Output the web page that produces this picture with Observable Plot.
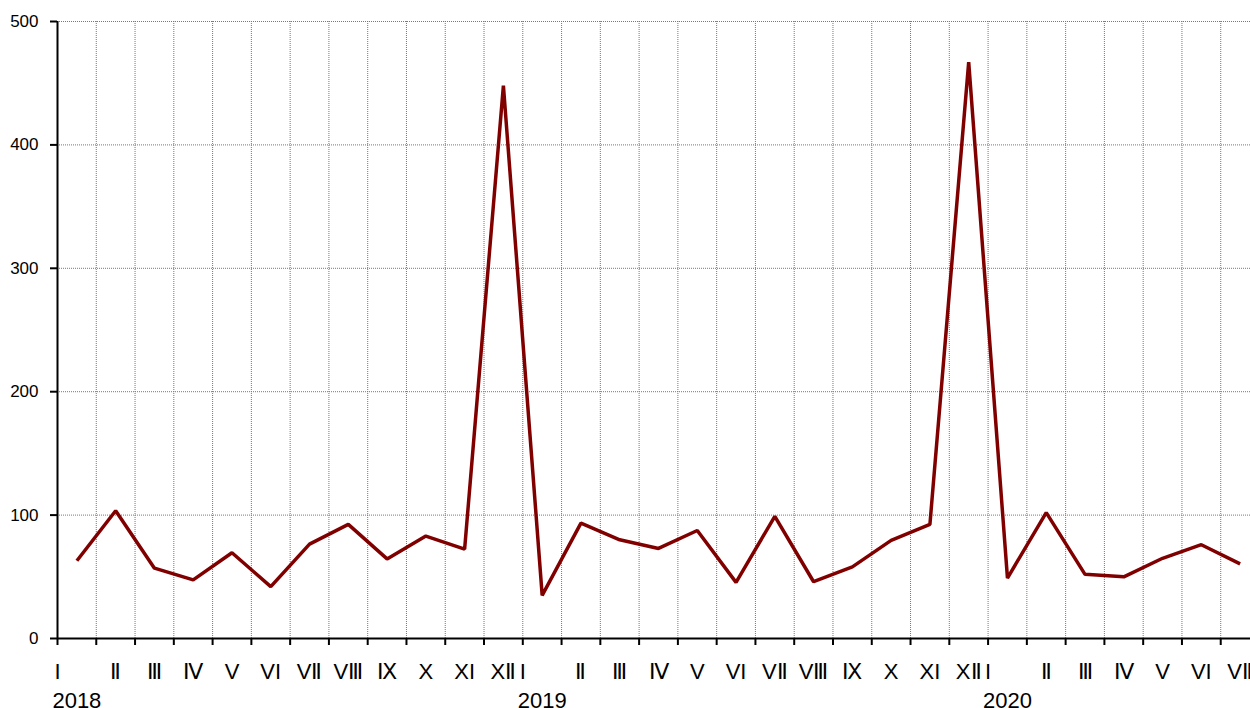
<!DOCTYPE html>
<html>
<head>
<meta charset="utf-8">
<script src="https://cdn.jsdelivr.net/npm/d3@7"></script>
<script src="https://cdn.jsdelivr.net/npm/@observablehq/plot@0.6"></script>
<style>
  html, body { margin: 0; padding: 0; background: #fff; overflow: hidden; }
  #chart svg { max-width: none; }
</style>
</head>
<body>
<div id="chart"></div>
<script>
const monthLabels = ["I", "Ⅱ", "Ⅲ", "Ⅳ", "V", "VI", "VⅡ", "VⅢ", "Ⅸ", "X", "XI", "XⅡ"];
const years = ["2018", "2019", "2020"];
const monthsPerYear = [12, 12, 7];
const values = [
  63, 103.5, 57, 47.5, 69.5, 42, 76.5, 92.5, 64.5, 83, 72.5, 448,
  35, 93.5, 80, 73, 87.5, 45.5, 99, 46, 58, 79.5, 92.5, 467,
  49, 102, 52, 50, 65, 76, 60.5
];
const yTicks = [0, 100, 200, 300, 400, 500];

// Build table
const rows = [];
years.forEach((yr, yi) => {
  for (let m = 0; m < monthsPerYear[yi]; m++) {
    const i = rows.length;
    rows.push({i, year: yr, month: m, label: monthLabels[m], value: values[i]});
  }
});
const nMonths = rows.length;
const boundaries = d3.range(0, nMonths + 1);
const yearRows = rows.filter(d => d.month === 0);

const font = "'Liberation Sans', Arial, Helvetica, sans-serif";

const chart = Plot.plot({
  width: 1250,
  height: 708,
  marginLeft: 57,
  marginRight: -9,
  marginTop: 21,
  marginBottom: 70,
  style: {fontFamily: font, background: "#fff"},
  x: {domain: [0, nMonths], axis: null},
  y: {domain: [0, 500], axis: null},
  marks: [
    // horizontal grid
    Plot.ruleY(yTicks.filter(t => t > 0), {stroke: "#777", strokeWidth: 1, strokeDasharray: "1,1"}),
    // vertical grid
    Plot.ruleX(boundaries.filter(b => b > 0), {y1: 0, y2: 500, stroke: "#777", strokeWidth: 1, strokeDasharray: "1,1"}),
    // axes lines
    Plot.ruleY([0], {stroke: "#000", strokeWidth: 2}),
    Plot.ruleX([0], {y1: 0, y2: 500, stroke: "#000", strokeWidth: 2}),
    // x tick marks (no labels)
    Plot.axisX({ticks: boundaries, tickSize: 7, tickFormat: () => "", label: null, stroke: "#000", strokeWidth: 2}),
    Plot.axisY({ticks: yTicks, tickSize: 7, tickPadding: 12, fontSize: 17, label: null, strokeWidth: 2, stroke: "#000", fill: "#000", tickFormat: d => String(d)}),
    // data line
    Plot.line(rows, {x: d => d.i + 0.5, y: "value", stroke: "#800000", strokeWidth: 3.5, strokeLinejoin: "miter", strokeLinecap: "butt"}),
    // month labels
    Plot.text(rows, {x: d => d.month === 0 ? d.i : d.i + 0.5, text: "label", frameAnchor: "bottom", dy: 40, lineAnchor: "bottom", fontSize: 22, fill: "#000"}),
    // year labels
    Plot.text(yearRows, {x: d => d.i + 0.5, text: "year", frameAnchor: "bottom", dy: 69, lineAnchor: "bottom", fontSize: 22, fill: "#000"})
  ]
});
document.getElementById("chart").appendChild(chart);
</script>
</body>
</html>
